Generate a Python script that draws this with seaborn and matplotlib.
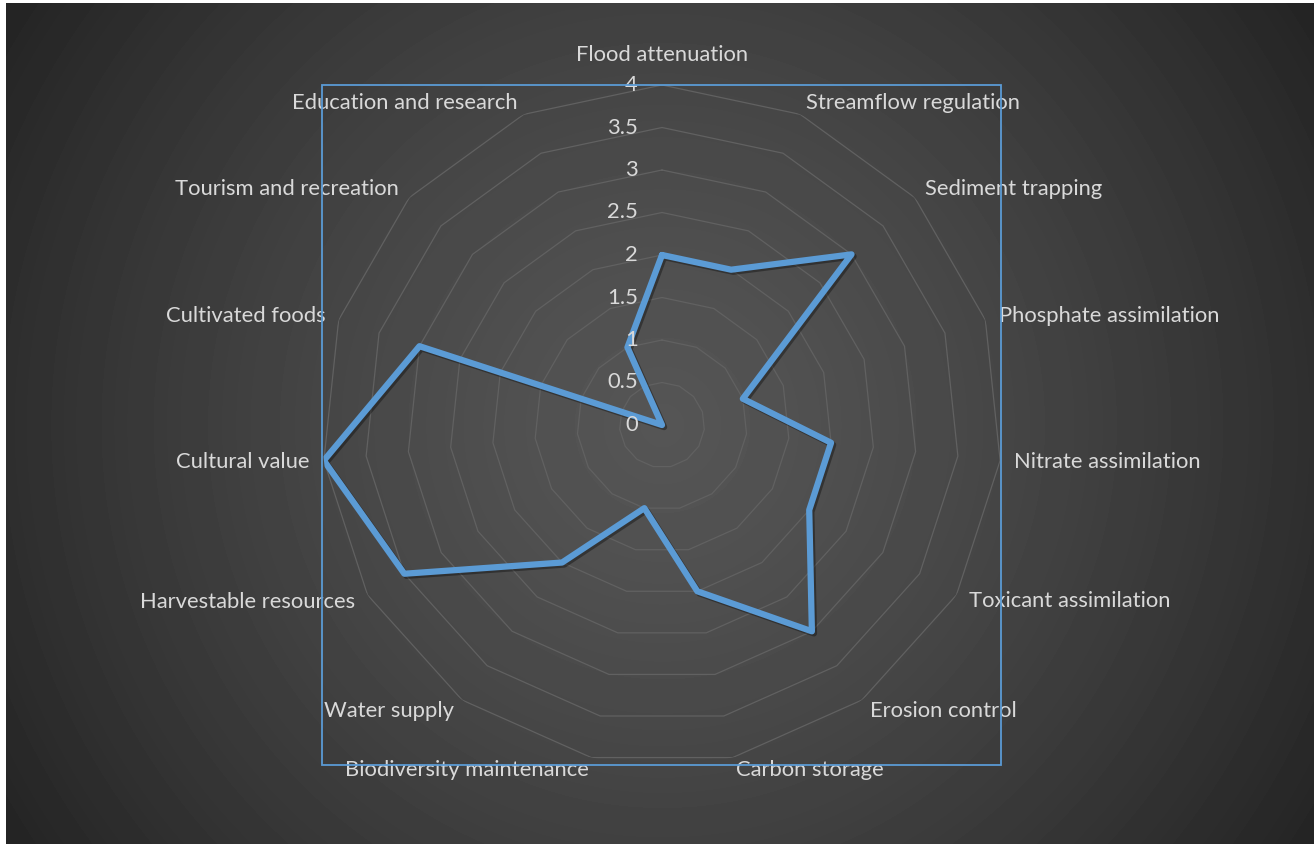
import numpy as np
import pandas as pd
import matplotlib
matplotlib.use("Agg")
import matplotlib.pyplot as plt
import matplotlib.patheffects as pe
from matplotlib.patches import Rectangle
import seaborn as sns

# Wetland ecosystem service scores (0-4), clockwise from the top
categories = ["Flood attenuation", "Streamflow regulation", "Sediment trapping",
              "Phosphate assimilation", "Nitrate assimilation", "Toxicant assimilation",
              "Erosion control", "Carbon storage", "Biodiversity maintenance",
              "Water supply", "Harvestable resources", "Cultural value",
              "Cultivated foods", "Tourism and recreation", "Education and research"]
scores = [2, 2, 3, 1, 2, 2, 3, 2, 1, 2, 3.5, 4, 3, 0, 1]
tick_values = [0, 0.5, 1, 1.5, 2, 2.5, 3, 3.5, 4]
tick_labels = ["0", "0.5", "1", "1.5", "2", "2.5", "3", "3.5", "4"]

W, H, DPI = 1316, 844, 100
LINE_BLUE = "#5B9BD5"
GRID = "#616161"
TEXT = "#d9d9d9"
FS = 15.8

sns.set_theme(style="white")
plt.rcParams["font.family"] = ["Lato", "DejaVu Sans"]

fig = plt.figure(figsize=(W / DPI, H / DPI), dpi=DPI, facecolor="white")

# radial dark-grey background
bg = fig.add_axes([6 / W, 0, (W - 8) / W, (H - 3) / H])
bg.set_axis_off()
yy, xx = np.mgrid[3:H, 6:W - 2]
dist = np.hypot(xx - 662, yy - 425) / 740.0
shade = (85 - 46 * np.clip(dist, 0, 1.3) ** 1.4) / 255.0
bg.imshow(shade, cmap="gray", vmin=0, vmax=1, aspect="auto", interpolation="bilinear")

# radar axes
ax = fig.add_axes([322 / W, 1 - 765 / H, 680 / W, 680 / H], projection="polar")
ax.set_facecolor("none")
ax.set_theta_zero_location("N")
ax.set_theta_direction(-1)
ax.grid(False)
ax.spines["polar"].set_visible(False)
ax.set_xticks([])
ax.set_yticks([])

n = len(categories)
angles = np.arange(n) * 2 * np.pi / n
closed_angles = np.append(angles, angles[0])

# polygonal rings
for v in tick_values[1:]:
    ax.plot(closed_angles, [v] * (n + 1), color=GRID, lw=0.9, zorder=1)

df = pd.DataFrame({"angle": np.append(angles, 2 * np.pi),
                   "score": scores + [scores[0]]})
sns.lineplot(data=df, x="angle", y="score", ax=ax, sort=False, color=LINE_BLUE,
             lw=4.5, solid_joinstyle="round", solid_capstyle="round", zorder=3,
             path_effects=[pe.SimpleLineShadow(offset=(1.5, -1.5), shadow_color="black",
                                               alpha=0.35),
                           pe.Normal()])
ax.set_xlabel("")
ax.set_ylabel("")
ax.set_ylim(0, 4)

# value axis labels
for v, lab in zip(tick_values, tick_labels):
    ax.annotate(lab, xy=(0, v), xytext=(-24, 0), textcoords="offset pixels",
                ha="right", va="center", color=TEXT, fontsize=FS, zorder=4)

# category labels
for a, lab in zip(angles, categories):
    s, c = np.sin(a), np.cos(a)
    if abs(s) < 1e-6:
        ha, off = "center", (0, 30)
    else:
        ha = "left" if s > 0 else "right"
        off = (14 * s, 13 * c)
    ax.annotate(lab, xy=(a, 4), xytext=off, textcoords="offset pixels",
                ha=ha, va="center", color=TEXT, fontsize=FS, annotation_clip=False)

# plot-area frame
fig.patches.append(Rectangle((322 / W, 1 - 765 / H), 679 / W, 680 / H,
                             transform=fig.transFigure, fill=False,
                             edgecolor=LINE_BLUE, lw=1.3, zorder=5))

fig.savefig("out.png", dpi=DPI, facecolor="white")
